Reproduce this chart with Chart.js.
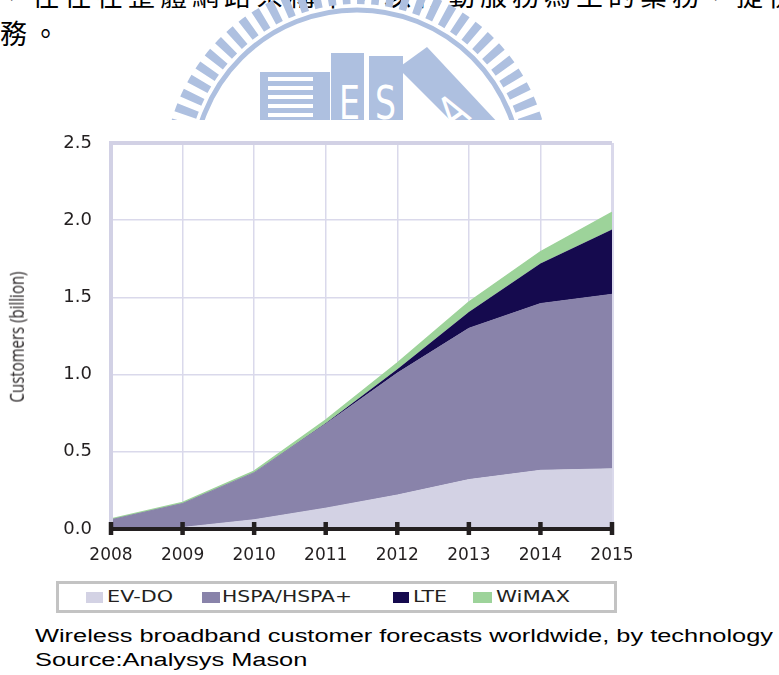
<!DOCTYPE html>
<html>
<head>
<meta charset="utf-8">
<script src="https://cdn.jsdelivr.net/npm/chart.js@4/dist/chart.umd.min.js"></script>
<style>
  html, body { margin: 0; padding: 0; background: #fff; }
  body { width: 779px; height: 675px; position: relative; overflow: hidden; }
  #para { position: absolute; left: 0; top: -24px; font-family: 'Noto Sans CJK TC', sans-serif;
          font-size: 27px; line-height: 38px; letter-spacing: 5px; color: #000; white-space: nowrap; }
  #logo { position: absolute; left: 0; top: 0; }
  #chart { position: absolute; left: 0; top: 0; }
  #ytitle { position: absolute; left: 16px; top: 337px; font-family: 'Open Sans', sans-serif; font-size: 15px;
            line-height: 15px; color: #231f20; white-space: nowrap;
            transform: translate(-50%, -50%) rotate(-90deg) scaleY(1.35); }
  #legend { position: absolute; left: 56px; top: 581px; width: 561px; height: 32px;
            box-sizing: border-box; border: 3px solid #c3c3c3; background: #fff; }
  .sw { position: absolute; height: 11px; }
  .lb { position: absolute; font-family: 'DejaVu Sans', sans-serif; font-size: 16px; line-height: 16px;
        color: #231f20; white-space: nowrap; transform-origin: 0 0; }
  .cap { position: absolute; left: 35px; font-family: 'Liberation Sans', Arial, sans-serif; font-size: 18px;
         line-height: 18px; color: #000; white-space: nowrap; transform-origin: 0 0; }
</style>
</head>
<body>

<div id="para">
  <div>，往往在整體網路架構下，以行動服務為主的業務，提供行</div>
  <div>務。</div>
</div>

<svg id="logo" width="779" height="120" viewBox="0 0 779 120">
  <g fill="none" stroke="#aec0e0">
    <circle cx="357" cy="174" r="181.5" stroke-width="23" stroke-dasharray="8 7"/>
    <circle cx="357" cy="174" r="164" stroke-width="5"/>
  </g>
  <g fill="#aec0e0">
    <rect x="260" y="72" width="70" height="60"/>
    <rect x="331" y="53" width="33" height="80"/>
    <rect x="369" y="56" width="34" height="80"/>
    <polygon points="398,68 427,47 500,125 470,140 410,80"/>
  </g>
  <g fill="#fff" font-family="Liberation Sans Narrow, DejaVu Sans Condensed, sans-serif" font-size="46">
    <rect x="268" y="77" width="45" height="4"/>
    <rect x="268" y="86" width="45" height="4"/>
    <rect x="268" y="95" width="45" height="4"/>
    <rect x="268" y="104" width="45" height="4"/>
    <rect x="268" y="113" width="45" height="4"/>
    <text x="339" y="119" textLength="21" lengthAdjust="spacingAndGlyphs">E</text>
    <text x="375" y="119" textLength="21" lengthAdjust="spacingAndGlyphs">S</text>
    <text x="440" y="128" textLength="24" lengthAdjust="spacingAndGlyphs" transform="rotate(-35 452 110)">A</text>
  </g>
</svg>

<canvas id="chart" width="779" height="572"></canvas>

<div id="ytitle">Customers (billion)</div>

<div id="legend"></div>

<div class="cap" id="cap1" style="top:627px">Wireless broadband customer forecasts worldwide, by technology</div>
<div class="cap" id="cap2" style="top:651px">Source:Analysys Mason</div>

<script>
// Customers by technology, billions (stacked)
const years  = ['2008', '2009', '2010', '2011', '2012', '2013', '2014', '2015'];
const evdo   = [0.00, 0.01, 0.06, 0.135, 0.22, 0.32, 0.38, 0.39];
const hspa   = [0.06, 0.155, 0.305, 0.545, 0.79, 0.98, 1.08, 1.13];
const lte    = [0.00, 0.00, 0.00, 0.005, 0.025, 0.105, 0.26, 0.42];
const wimax  = [0.005, 0.007, 0.01, 0.02, 0.04, 0.065, 0.075, 0.11];
const yTicks = [0, 0.5, 1.0, 1.5, 2.0, 2.5];

const seriesNames  = ['EV-DO', 'HSPA/HSPA+', 'LTE', 'WiMAX'];
const seriesData   = [evdo, hspa, lte, wimax];
const seriesColors = ['#d3d2e4', '#8983aa', '#150a4e', '#9dd39a'];
const seriesBorder = [1, 1, 0, 1.5];

const INK = '#231f20';
const GRID = '#dad9eb';
const FRAME = '#d2d1e5';

// Black x axis with tick marks crossing it at every year
const axisTicks = {
  id: 'axisTicks',
  afterDraw(chart) {
    const { ctx, chartArea } = chart;
    const x = chart.scales.x;
    ctx.save();
    ctx.strokeStyle = INK;
    ctx.lineWidth = 4.5;
    x.ticks.forEach((t, i) => {
      const px = x.getPixelForTick(i);
      ctx.beginPath();
      ctx.moveTo(px, chartArea.bottom - 7);
      ctx.lineTo(px, chartArea.bottom + 6);
      ctx.stroke();
    });
    ctx.restore();
  }
};

new Chart(document.getElementById('chart'), {
  type: 'line',
  data: {
    labels: years,
    datasets: seriesNames.map((name, i) => ({
      label: name,
      data: seriesData[i],
      backgroundColor: seriesColors[i],
      borderColor: seriesColors[i],
      borderWidth: seriesBorder[i],
      pointRadius: 0,
      tension: 0,
      fill: i === 0 ? 'origin' : '-1'
    }))
  },
  options: {
    responsive: false,
    animation: false,
    devicePixelRatio: 1,
    layout: { padding: { top: 143, right: 167, bottom: 0, left: 0 } },
    plugins: { legend: { display: false }, tooltip: { enabled: false } },
    scales: {
      x: {
        offset: false,
        afterFit: s => { s.height = 43; },
        grid: {
          color: GRID,
          drawTicks: false,
          lineWidth: c => c.index === 0 ? 0 : (c.index === years.length - 1 ? 3 : 1.5)
        },
        border: { display: true, color: INK, width: 4, z: 1 },
        ticks: { color: INK, padding: 16, font: { family: 'DejaVu Sans', size: 17 }, maxRotation: 0 }
      },
      y: {
        stacked: true,
        min: 0,
        max: 2.5,
        afterFit: s => { s.width = 111; },
        afterBuildTicks: s => { s.ticks = yTicks.map(v => ({ value: v })); },
        grid: {
          color: c => c.tick && c.tick.value === 2.5 ? FRAME : GRID,
          drawTicks: false,
          lineWidth: c => c.tick && c.tick.value === 2.5 ? 4 : (c.tick && c.tick.value === 0 ? 0 : 1.5)
        },
        border: { display: true, color: FRAME, width: 4, z: 1 },
        ticks: {
          color: INK, padding: 19,
          font: { family: 'DejaVu Sans', size: 18 },
          callback: v => Number(v).toFixed(1)
        }
      }
    }
  },
  plugins: [axisTicks]
});

// Legend row
const legend = document.getElementById('legend');
const swatchLeft = [86, 202, 393, 473];
const swatchWidth = [17, 18, 16, 19];
const labelLeft = [107, 222, 413, 496];
const labelWidth = [66, 130, 34, 74];
seriesNames.forEach((name, i) => {
  const sw = document.createElement('div');
  sw.className = 'sw';
  sw.style.left = (swatchLeft[i] - 59) + 'px';
  sw.style.top = (592 - 584) + 'px';
  sw.style.width = swatchWidth[i] + 'px';
  sw.style.background = seriesColors[i];
  legend.appendChild(sw);
  const lb = document.createElement('div');
  lb.className = 'lb';
  lb.textContent = name;
  lb.style.left = (labelLeft[i] - 59) + 'px';
  lb.style.top = (589 - 584) + 'px';
  legend.appendChild(lb);
  const w = lb.getBoundingClientRect().width;
  lb.style.transform = 'scaleX(' + (labelWidth[i] / w) + ')';
});

// Caption lines share one horizontal scale
const cap1 = document.getElementById('cap1');
const cap2 = document.getElementById('cap2');
const k = 738 / cap1.getBoundingClientRect().width;
cap1.style.transform = 'scaleX(' + k + ')';
cap2.style.transform = 'scaleX(' + k + ')';
</script>
</body>
</html>
